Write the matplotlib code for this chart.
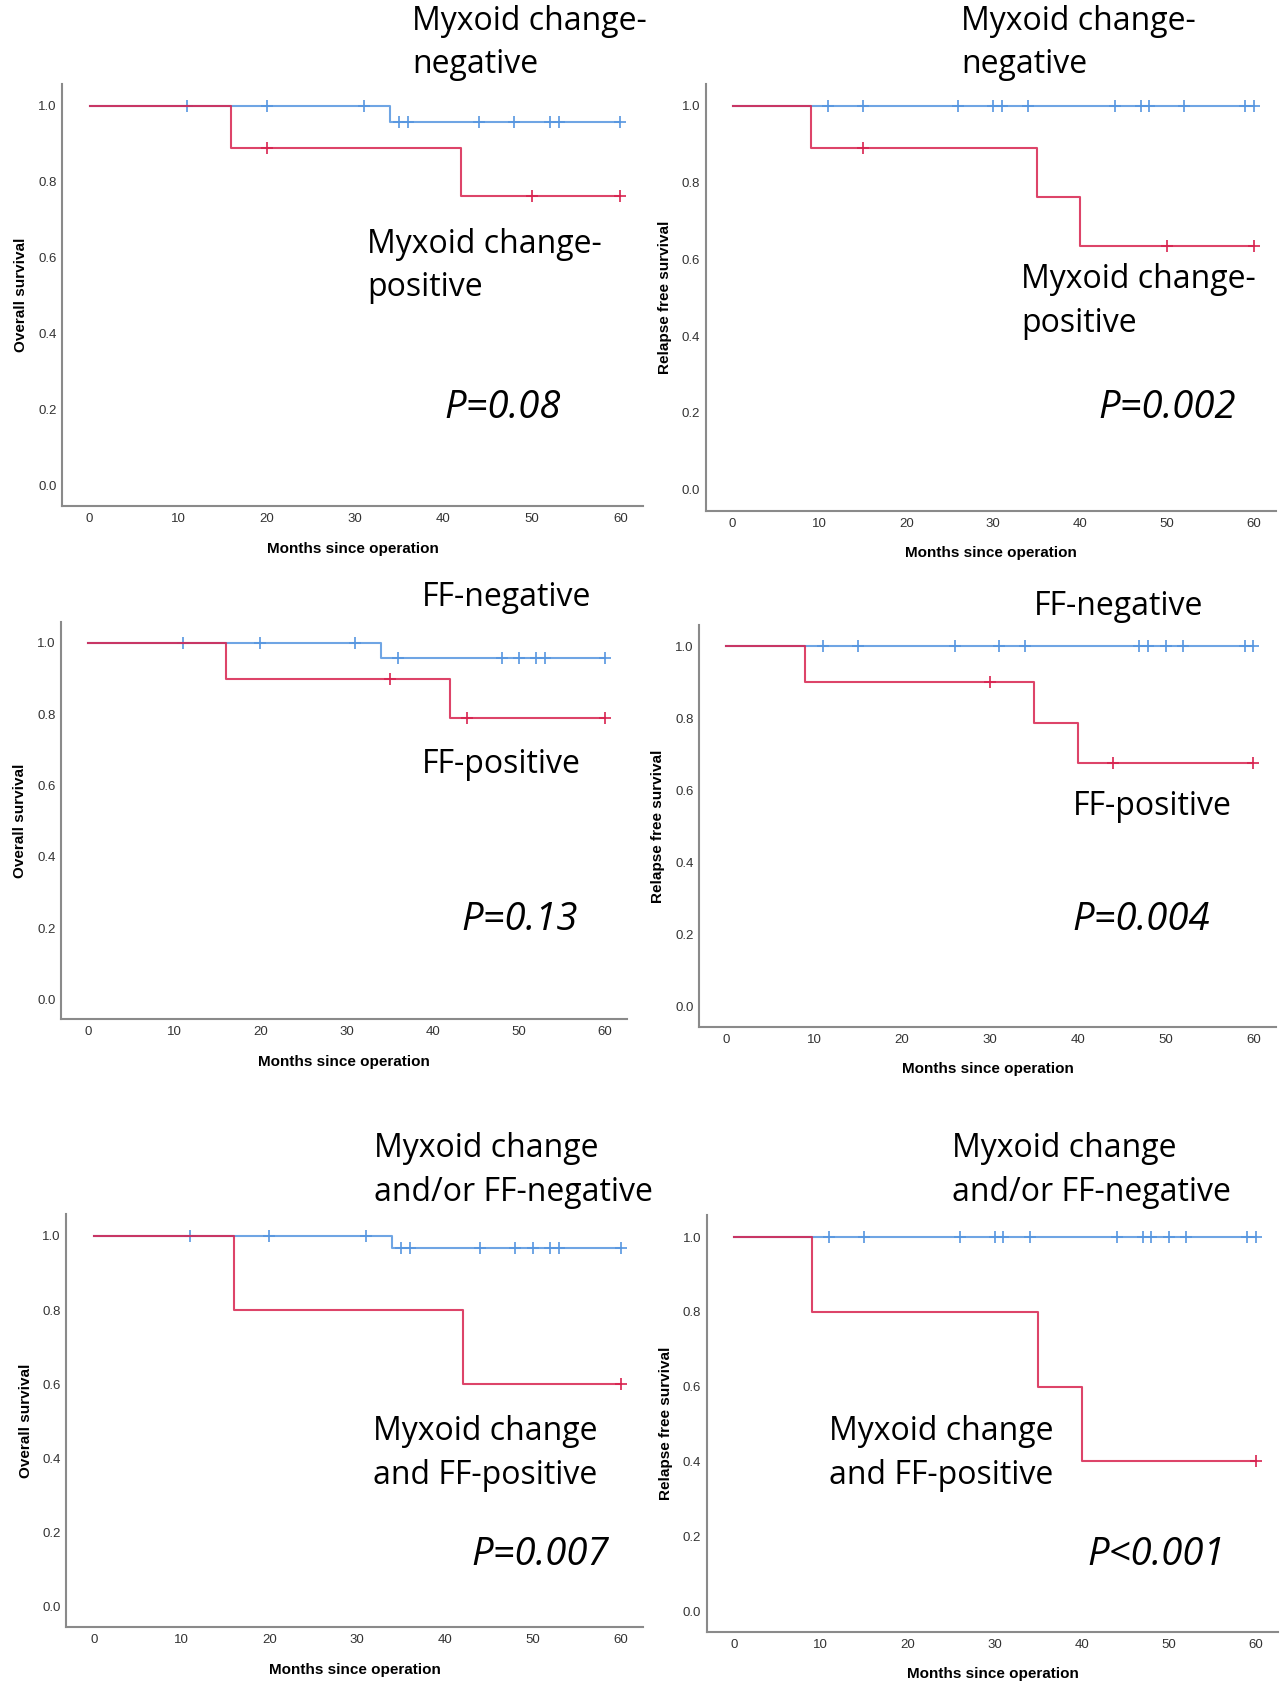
import matplotlib
matplotlib.use("Agg")
import matplotlib.pyplot as plt

# --- data (months, survival) ---
# top left: overall survival, myxoid change
os_myx_neg_t = [0, 34, 60]
os_myx_neg_s = [1.0, 0.958, 0.958]
os_myx_neg_cens = [11, 20, 31, 35, 36, 44, 48, 52, 53, 60]
os_myx_pos_t = [0, 16, 42, 60]
os_myx_pos_s = [1.0, 0.889, 0.762, 0.762]
os_myx_pos_cens = [20, 50, 60]

# top right: relapse free survival, myxoid change
rfs_myx_neg_t = [0, 60]
rfs_myx_neg_s = [1.0, 1.0]
rfs_myx_neg_cens = [11, 15, 26, 30, 31, 34, 44, 47, 48, 52, 59, 60]
rfs_myx_pos_t = [0, 9, 35, 40, 60]
rfs_myx_pos_s = [1.0, 0.889, 0.762, 0.635, 0.635]
rfs_myx_pos_cens = [15, 50, 60]

# middle left: overall survival, FF
os_ff_neg_t = [0, 34, 60]
os_ff_neg_s = [1.0, 0.958, 0.958]
os_ff_neg_cens = [11, 20, 31, 36, 48, 50, 52, 53, 60]
os_ff_pos_t = [0, 16, 42, 60]
os_ff_pos_s = [1.0, 0.9, 0.788, 0.788]
os_ff_pos_cens = [35, 44, 60]

# middle right: relapse free survival, FF
rfs_ff_neg_t = [0, 60]
rfs_ff_neg_s = [1.0, 1.0]
rfs_ff_neg_cens = [11, 15, 26, 31, 34, 47, 48, 50, 52, 59, 60]
rfs_ff_pos_t = [0, 9, 35, 40, 60]
rfs_ff_pos_s = [1.0, 0.9, 0.788, 0.675, 0.675]
rfs_ff_pos_cens = [30, 44, 60]

# bottom left: overall survival, combined
os_both_neg_t = [0, 34, 60]
os_both_neg_s = [1.0, 0.966, 0.966]
os_both_neg_cens = [11, 20, 31, 35, 36, 44, 48, 50, 52, 53, 60]
os_both_pos_t = [0, 16, 42, 60]
os_both_pos_s = [1.0, 0.8, 0.6, 0.6]
os_both_pos_cens = [60]

# bottom right: relapse free survival, combined
rfs_both_neg_t = [0, 60]
rfs_both_neg_s = [1.0, 1.0]
rfs_both_neg_cens = [11, 15, 26, 30, 31, 34, 44, 47, 48, 50, 52, 59, 60]
rfs_both_pos_t = [0, 9, 35, 40, 60]
rfs_both_pos_s = [1.0, 0.8, 0.6, 0.4, 0.4]
rfs_both_pos_cens = [60]

x_ticks = [0, 10, 20, 30, 40, 50, 60]
y_ticks = [0.0, 0.2, 0.4, 0.6, 0.8, 1.0]

BLUE = "#5696e0"
RED = "#d8234f"
W, H = 1201.0, 1568.0   # coords measured on the shrunk view

panels = [
    # rect in view px (left, top, right, bottom), ylabel, neg, pos, texts
    dict(box=(58, 78, 600, 472), ylab="Overall survival",
         neg=(os_myx_neg_t, os_myx_neg_s, os_myx_neg_cens),
         pos=(os_myx_pos_t, os_myx_pos_s, os_myx_pos_cens),
         texts=[("Myxoid change-\nnegative", 384, 40),
                ("Myxoid change-\npositive", 342, 248)],
         p=("P=0.08", 414, 380)),
    dict(box=(658, 78, 1190, 476), ylab="Relapse free survival",
         neg=(rfs_myx_neg_t, rfs_myx_neg_s, rfs_myx_neg_cens),
         pos=(rfs_myx_pos_t, rfs_myx_pos_s, rfs_myx_pos_cens),
         texts=[("Myxoid change-\nnegative", 896, 40),
                ("Myxoid change-\npositive", 952, 281)],
         p=("P=0.002", 1024, 380)),
    dict(box=(57, 580, 585, 950), ylab="Overall survival",
         neg=(os_ff_neg_t, os_ff_neg_s, os_ff_neg_cens),
         pos=(os_ff_pos_t, os_ff_pos_s, os_ff_pos_cens),
         texts=[("FF-negative", 393, 557),
                ("FF-positive", 393, 713)],
         p=("P=0.13", 430, 858)),
    dict(box=(652, 583, 1190, 957), ylab="Relapse free survival",
         neg=(rfs_ff_neg_t, rfs_ff_neg_s, rfs_ff_neg_cens),
         pos=(rfs_ff_pos_t, rfs_ff_pos_s, rfs_ff_pos_cens),
         texts=[("FF-negative", 964, 565),
                ("FF-positive", 1000, 752)],
         p=("P=0.004", 1000, 858)),
    dict(box=(62, 1132, 600, 1517), ylab="Overall survival",
         neg=(os_both_neg_t, os_both_neg_s, os_both_neg_cens),
         pos=(os_both_pos_t, os_both_pos_s, os_both_pos_cens),
         texts=[("Myxoid change\nand/or FF-negative", 349, 1091),
                ("Myxoid change\nand FF-positive", 348, 1355)],
         p=("P=0.007", 440, 1450)),
    dict(box=(659, 1133, 1192, 1521), ylab="Relapse free survival",
         neg=(rfs_both_neg_t, rfs_both_neg_s, rfs_both_neg_cens),
         pos=(rfs_both_pos_t, rfs_both_pos_s, rfs_both_pos_cens),
         texts=[("Myxoid change\nand/or FF-negative", 888, 1091),
                ("Myxoid change\nand FF-positive", 773, 1355)],
         p=("P<0.001", 1014, 1450)),
]

fig = plt.figure(figsize=(12.88, 16.82), dpi=100)
big_font = ["Open Sans", "DejaVu Sans"]
tick_font = ["Liberation Sans Narrow", "Liberation Sans", "DejaVu Sans"]


def step_curve(ax, t, s, cens, color):
    ax.step(t, s, where="post", color=color, lw=1.5, alpha=0.85)
    # censor marks sit on the curve at their time
    cy = []
    for c in cens:
        v = s[0]
        for ti, si in zip(t, s):
            if ti <= c:
                v = si
        cy.append(v)
    ax.plot(cens, cy, linestyle="none", marker="+", ms=9, mew=1.2,
            color=color)


for pnl in panels:
    l, t, r, b = pnl["box"]
    ax = fig.add_axes([l / W, 1 - b / H, (r - l) / W, (b - t) / H])
    step_curve(ax, *pnl["neg"], BLUE)
    step_curve(ax, *pnl["pos"], RED)
    ax.set_xlim(-3.1, 62.6)
    ax.set_ylim(-0.055, 1.058)
    ax.set_xticks(x_ticks)
    ax.set_yticks(y_ticks)
    ax.set_xticklabels([str(v) for v in x_ticks], family=tick_font,
                       fontsize=9.5, color="#333333")
    ax.set_yticklabels(["%.1f" % v for v in y_ticks], family=tick_font,
                       fontsize=9.5, color="#333333")
    ax.tick_params(axis="x", length=0, pad=5)
    ax.tick_params(axis="y", length=0, pad=4)
    for sp in ["top", "right"]:
        ax.spines[sp].set_visible(False)
    for sp in ["left", "bottom"]:
        ax.spines[sp].set_color("#8a8a8a")
        ax.spines[sp].set_linewidth(1.5)
    ax.set_xlabel("Months since operation", fontsize=11, fontweight="bold",
                  family="Liberation Sans", labelpad=12)
    ax.set_ylabel(pnl["ylab"], fontsize=11, fontweight="bold",
                  family="Liberation Sans", labelpad=7)

    for txt, x, y in pnl["texts"]:
        fig.text(x / W, 1 - y / H, txt, family=big_font, fontsize=23,
                 ha="left", va="center", linespacing=1.43)
    ptxt, px, py = pnl["p"]
    fig.text(px / W, 1 - py / H, ptxt, family=big_font, fontsize=27.5,
             style="italic", ha="left", va="center")

fig.savefig("out.png", dpi=100)
